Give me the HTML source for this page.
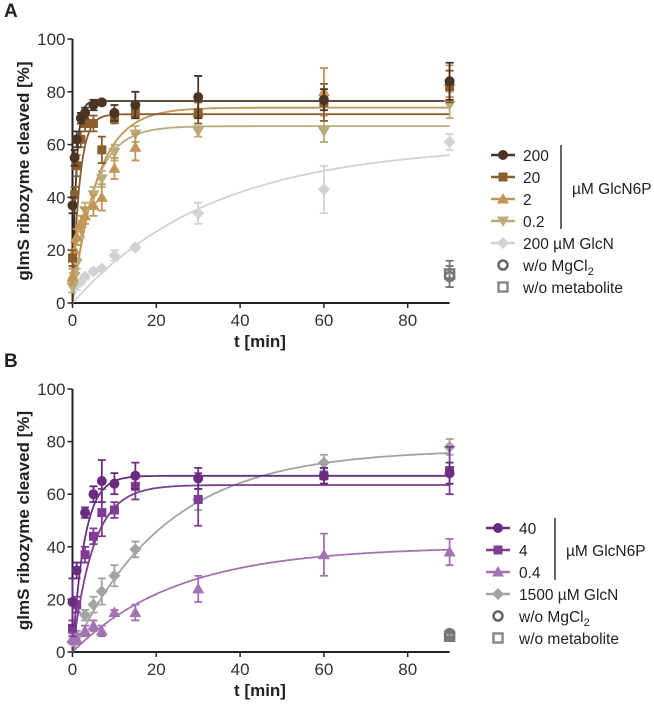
<!DOCTYPE html>
<html><head><meta charset="utf-8"><style>
body{margin:0;background:#fff}
svg{display:block;font-family:"Liberation Sans",Arial,sans-serif}
</style></head><body>
<svg id="fig" width="654" height="704" viewBox="0 0 654 704"></svg>
<script>
// ---------- Panel A data ----------
const timesA = [0,0.5,1,2,3,5,7,10,15,30,60,90];
const a200 = [37,55,62,70,72,75,76,72,75,78,77,84];
const a200err = [3,3,3,2,2,2,1,3,5,8,4,7];
const a20 = [17,41,52,62,68,68,58,70,72,72,76,82];
const a20err = [3,3,4,3,3,3,5,2,2,4,7,6];
const a2 = [10,20,25,30,33,37,40,51,59,72,80,84];
const a2err = [3,3,3,3,3,4,5,4,5,4,9,6];
const a02 = [6,10,15,28,35,41,47,57,64,65,65,75];
const a02err = [2,2,2,3,3,3,3,3,3,2,4,5];
const timesAGlcN = [0,1,2,3,5,7,10,15,30,60,90];
const aGlcN = [8,7,8,10,12,13,18,21,34,43,61];
const aGlcNerr = [2,2,1,1,1,1,2,1,4,9,3];
const aCtrl = [10,11]; const aCtrlErr = [4,5];
// fit parameters [plateau, k]
const fitsA = [[76.5,1.2],[71.5,0.6],[74,0.17],[67,0.2],[60,0.03]];
// ---------- Panel B data ----------
const timesB = [0,1,3,5,7,10,15,30,60,90];
const b40 = [19,31,53,60,65,64,67,66,67,68];
const b40err = [9,3,2,3,8,4,5,4,3,4];
const b4 = [9,18,37,44,53,54,63,58,67,69];
const b4err = [3,3,3,3,9,3,5,10,3,9];
const b04 = [5,5,8,10,8,15,15,24,37,38];
const b04err = [2,2,2,2,2,1,3,5,8,5];
const bGlcN = [4,6,14,18,23,29,39,58,72,78];
const bGlcNerr = [1,2,2,3,5,4,3,4,3,3];
const bCtrl = [7,6]; const bCtrlErr = [1,1];
const fitsB = [[67,0.35],[63.5,0.2],[40,0.04],[77,0.045]];
const xTicks = [0,20,40,60,80];
const yTicks = [0,20,40,60,80,100];

const NS="http://www.w3.org/2000/svg";
const svg=document.getElementById('fig');
function el(tag,attrs,parent){const e=document.createElementNS(NS,tag);for(const k in attrs)e.setAttribute(k,attrs[k]);(parent||svg).appendChild(e);return e;}

function panel(top0,top100,letter,series,ctrl,ctrlErr,legend){
  const X=t=>72.5+t*4.19;
  const Y=v=>top0-(top0-top100)*v/100;
  const g=el('g',{});
  
  
  const lt=el('text',{x:4,y:top100-22,'font-size':19,'font-weight':'bold',fill:'#222'},g);lt.textContent=letter;
  
  const ax=el('path',{d:`M${X(0)},${Y(100)}V${Y(0)}H${X(90)}`,stroke:'#222','stroke-width':2,fill:'none'},g);
  
  yTicks.forEach(v=>{el('line',{x1:X(0)-5,x2:X(0),y1:Y(v),y2:Y(v),stroke:'#222','stroke-width':1.5},g);
    const t=el('text',{x:X(0)-7,y:Y(v)+6,'font-size':17,'text-anchor':'end',fill:'#333'},g);t.textContent=v;
    });
  xTicks.forEach(v=>{el('line',{x1:X(v),x2:X(v),y1:Y(0),y2:Y(0)+5,stroke:'#222','stroke-width':1.5},g);
    const t=el('text',{x:X(v),y:Y(0)+23,'font-size':17,'text-anchor':'middle',fill:'#333'},g);t.textContent=v;
    });
  const xt=el('text',{x:260,y:Y(0)+44,'font-size':17,'font-weight':'bold','text-anchor':'middle',fill:'#222'},g);xt.textContent='t [min]';
  
  const cy=(Y(0)+Y(100))/2;
  const yt=el('text',{x:0,y:0,transform:`translate(29,${cy}) rotate(-90)`,'font-size':17,'font-weight':'bold','text-anchor':'middle',fill:'#222'},g);yt.textContent='glmS ribozyme cleaved [%]';
  
  series.forEach(s=>{
    let d='';for(let i=0;i<=180;i++){const t=i*0.5;d+=(i?'L':'M')+X(t).toFixed(1)+','+Y(s.fit[0]*(1-Math.exp(-s.fit[1]*t))).toFixed(1);}
    const p=el('path',{d,stroke:s.color,'stroke-width':1.8,fill:'none'},g);
    
  });
  series.forEach(s=>{
    s.t.forEach((t,i)=>{
      const x=X(t),y=Y(s.v[i]),e=s.e[i];
      el('path',{d:`M${x},${Y(s.v[i]-e)}V${Y(s.v[i]+e)}M${x-4},${Y(s.v[i]+e)}h8M${x-4},${Y(s.v[i]-e)}h8`,stroke:s.color,'stroke-width':1.8,fill:'none'},g);
      const m=marker(g,s.shape,x,y,s.color,true);
      
    });
  });
  ['circle','square'].forEach((sh,i)=>{
    const x=X(90),y=Y(ctrl[i]),e=ctrlErr[i];
    el('path',{d:`M${x},${Y(ctrl[i]-e)}V${Y(ctrl[i]+e)}M${x-4},${Y(ctrl[i]+e)}h8M${x-4},${Y(ctrl[i]-e)}h8`,stroke:'#777','stroke-width':1.8,fill:'none'},g);
    const m=marker(g,sh,x,y,'#777',false);
    
  });
  const lg=el('g',{},g);
  
  legend.rows.forEach((r,i)=>{
    const y=legend.y0+i*legend.dy;
    const row=el('g',{},lg);
    
    if(r.line) el('line',{x1:legend.mx-12,x2:legend.mx+12,y1:y,y2:y,stroke:r.color,'stroke-width':2.5},row);
    marker(row,r.shape,legend.mx,y,r.color,r.line);
    const t=el('text',{x:legend.tx,y:y+6,'font-size':15.5,fill:'#222'},row);
    t.innerHTML=r.label;
  });
  const n=legend.groupN;
  el('line',{x1:legend.bx,x2:legend.bx,y1:legend.y0-10,y2:legend.y0+(n-1)*legend.dy+8,stroke:'#333','stroke-width':1.5},lg);
  const bl=el('text',{x:legend.bx+11,y:legend.y0+(n-1)/2*legend.dy+6,'font-size':15.5,fill:'#222'},lg);bl.textContent='µM GlcN6P';
  
}
function marker(g,shape,x,y,c,filled){
  const f=filled?c:'none',w=filled?0:2.5;
  if(shape==='circle') return el('circle',{cx:x,cy:y,r:filled?5:4.5,fill:f,stroke:c,'stroke-width':w},g);
  if(shape==='square') return el('rect',{x:x-4.5,y:y-4.5,width:9,height:9,fill:f,stroke:c,'stroke-width':w},g);
  if(shape==='up') return el('path',{d:`M${x},${y-6}L${x+6},${y+4.5}L${x-6},${y+4.5}Z`,fill:f},g);
  if(shape==='down') return el('path',{d:`M${x},${y+6}L${x+6},${y-4.5}L${x-6},${y-4.5}Z`,fill:f},g);
  return el('path',{d:`M${x},${y-6}L${x+6},${y}L${x},${y+6}L${x-6},${y}Z`,fill:f},g);
}
const cA=['#4a3424','#8a5e2e','#c39554','#b9ab7c','#d2d2d2'];
panel(303,39,'A',[
 {key:'glcn',t:timesAGlcN,v:aGlcN,e:aGlcNerr,fit:fitsA[4],color:cA[4],shape:'diamond'},
 {key:'0-2',t:timesA,v:a02,e:a02err,fit:fitsA[3],color:cA[3],shape:'down'},
 {key:'2',t:timesA,v:a2,e:a2err,fit:fitsA[2],color:cA[2],shape:'up'},
 {key:'20',t:timesA,v:a20,e:a20err,fit:fitsA[1],color:cA[1],shape:'square'},
 {key:'200',t:timesA,v:a200,e:a200err,fit:fitsA[0],color:cA[0],shape:'circle'}
],aCtrl,aCtrlErr,{y0:155,dy:22,mx:503,tx:523,bx:561,groupN:4,rows:[
 {label:'200',color:cA[0],shape:'circle',line:true},
 {label:'20',color:cA[1],shape:'square',line:true},
 {label:'2',color:cA[2],shape:'up',line:true},
 {label:'0.2',color:cA[3],shape:'down',line:true},
 {label:'200 µM GlcN',color:cA[4],shape:'diamond',line:true},
 {label:'w/o MgCl<tspan font-size="11" dy="4">2</tspan>',color:'#666',shape:'circle',line:false},
 {label:'w/o metabolite',color:'#888',shape:'square',line:false}]});
const cB=['#6a2c80','#7e3c92','#a272b2','#a3a3a3'];
panel(652,389,'B',[
 {key:'glcn',t:timesB,v:bGlcN,e:bGlcNerr,fit:fitsB[3],color:cB[3],shape:'diamond'},
 {key:'0-4',t:timesB,v:b04,e:b04err,fit:fitsB[2],color:cB[2],shape:'up'},
 {key:'4',t:timesB,v:b4,e:b4err,fit:fitsB[1],color:cB[1],shape:'square'},
 {key:'40',t:timesB,v:b40,e:b40err,fit:fitsB[0],color:cB[0],shape:'circle'}
],bCtrl,bCtrlErr,{y0:528,dy:22,mx:498,tx:519,bx:555,groupN:3,rows:[
 {label:'40',color:cB[0],shape:'circle',line:true},
 {label:'4',color:cB[1],shape:'square',line:true},
 {label:'0.4',color:cB[2],shape:'up',line:true},
 {label:'1500 µM GlcN',color:cB[3],shape:'diamond',line:true},
 {label:'w/o MgCl<tspan font-size="11" dy="4">2</tspan>',color:'#666',shape:'circle',line:false},
 {label:'w/o metabolite',color:'#888',shape:'square',line:false}]});
</script>
</body></html>
